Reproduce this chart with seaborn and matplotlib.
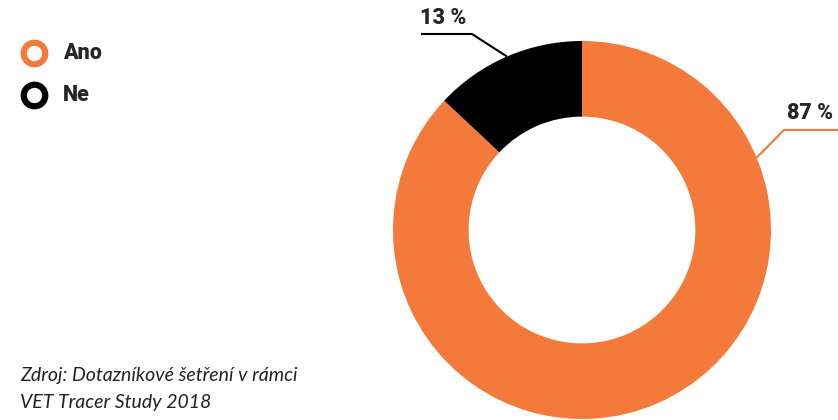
import numpy as np
import matplotlib.pyplot as plt
import seaborn as sns

labels = ["Ano", "Ne"]
values = [87, 13]
colors = ["#F47A3C", "#000000"]
pct_labels = ["87 %", "13 %"]
source = "Zdroj: Dotazníkové šetření v rámci\nVET Tracer Study 2018"

sns.set_theme(style="white")
plt.rcParams["font.family"] = ["Lato", "DejaVu Sans"]
BOLD = dict(family=["Roboto", "DejaVu Sans"], weight="black")

W, H = 838, 420
fig = plt.figure(figsize=(W / 100, H / 100), dpi=100)
ax = fig.add_axes([0, 0, 1, 1])

cx, cy, R = 582, H - 230, 189
wedges, _ = ax.pie(values, colors=colors, startangle=90, counterclock=False,
                   center=(cx, cy), radius=R,
                   wedgeprops=dict(width=R * 0.4, linewidth=0))
ax.set_xlim(0, W)
ax.set_ylim(0, H)
ax.set_aspect("equal")
ax.axis("off")

# leader line for 13 % (black), to the middle of the black wedge
w = wedges[1]
mid = np.deg2rad((w.theta1 + w.theta2) / 2)
ex, ey = cx + R * np.cos(mid), cy + R * np.sin(mid)
ax.plot([421, 472, ex], [H - 34, H - 34, ey], color="black", lw=1.5,
        solid_capstyle="butt")
ax.text(420, H - 18, pct_labels[1], fontsize=15.5, ha="left", va="center", **BOLD)

# leader line for 87 % (orange)
a = np.deg2rad(22.5)
ex, ey = cx + R * np.cos(a), cy + R * np.sin(a)
ax.plot([ex, 784, W], [ey, H - 130, H - 130], color=colors[0], lw=1.5,
        solid_capstyle="butt")
ax.text(833, H - 113, pct_labels[0], fontsize=15.5, ha="right", va="center", **BOLD)

# legend with ring markers
for i, (lab, c) in enumerate(zip(labels, colors)):
    y = H - 53 - 42 * i
    ax.plot([34], [y], marker="o", ls="", markersize=15.5,
            markerfacecolor="white", markeredgecolor=c, markeredgewidth=4.5)
    ax.text(63, y, lab, fontsize=15.5, ha="left", va="center", **BOLD)

ax.text(20, H - 389, source, fontsize=14, style="italic", color="#222222",
        ha="left", va="center", linespacing=1.65)

fig.savefig("out.png", dpi=100)
